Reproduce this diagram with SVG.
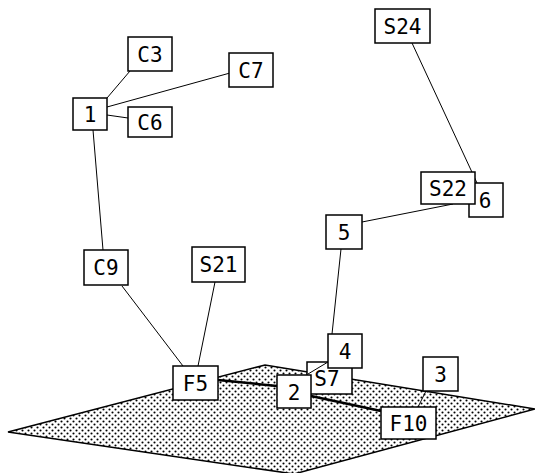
<svg xmlns="http://www.w3.org/2000/svg" width="535" height="473" viewBox="0 0 535 473">
  <style>
    .box { fill: #fff; stroke: #000; stroke-width: 1.5; }
    .lbl { font-family: "DejaVu Sans Mono", "Liberation Mono", monospace; font-size: 21px; fill: #000; text-anchor: middle; }
    .ln { stroke: #000; stroke-width: 1; fill: none; }
    .thick { stroke: #000; stroke-width: 2.5; fill: none; }
  </style>
  <defs>
    <pattern id="dots" width="6" height="6" patternUnits="userSpaceOnUse">
      <rect width="6" height="6" fill="#fff"/>
      <circle cx="1.5" cy="1.5" r="1.05" fill="#000"/>
      <circle cx="4.5" cy="4.5" r="1.05" fill="#000"/>
    </pattern>
  </defs>
  <rect width="535" height="473" fill="#fff"/>
  <g id="plane">
    <polygon points="8,432 265,365 535,409 294,474" fill="url(#dots)" stroke="#000" stroke-width="1.5"/>
  </g>
  <g id="node-6"><rect class="box" x="469" y="183" width="34" height="34"/><text class="lbl" x="485" y="208">6</text></g>
  <g id="node-S7"><rect class="box" x="307" y="362" width="45" height="32"/><text class="lbl" x="327" y="386">S7</text></g>
  <g id="connectors">
    <line class="ln" x1="107" y1="98" x2="130" y2="71"/>
    <line class="ln" x1="107" y1="107" x2="230" y2="73"/>
    <line class="ln" x1="107" y1="115" x2="128" y2="118" stroke-width="1.6"/>
    <line class="ln" x1="93" y1="130" x2="103" y2="250"/>
    <line class="ln" x1="122" y1="286" x2="183" y2="366"/>
    <line class="ln" x1="215" y1="282" x2="198" y2="366"/>
    <line class="ln" x1="412" y1="43" x2="477" y2="183"/>
    <line class="ln" x1="362" y1="222" x2="453" y2="204"/>
    <line class="ln" x1="341" y1="249" x2="332" y2="334"/>
    <line class="ln" x1="328" y1="362" x2="308" y2="374" stroke-width="1.5"/>
    <line class="thick" x1="218" y1="380" x2="277" y2="386"/>
    <line class="thick" x1="311" y1="396" x2="381" y2="411" stroke-width="2"/>
    <line class="ln" x1="426" y1="391" x2="418" y2="407" stroke-width="1.5"/>
  </g>
  <g id="node-C3"><rect class="box" x="128" y="37" width="44" height="34"/><text class="lbl" x="150" y="62">C3</text></g>
  <g id="node-C7"><rect class="box" x="229" y="53" width="44" height="34"/><text class="lbl" x="251" y="78">C7</text></g>
  <g id="node-1"><rect class="box" x="73" y="98" width="34" height="32"/><text class="lbl" x="90" y="122">1</text></g>
  <g id="node-C6"><rect class="box" x="128" y="107" width="44" height="30"/><text class="lbl" x="150" y="130">C6</text></g>
  <g id="node-S24"><rect class="box" x="375" y="9" width="55" height="34"/><text class="lbl" x="402.5" y="34">S24</text></g>
  <g id="node-S22"><rect class="box" x="421" y="172" width="54" height="32"/><text class="lbl" x="448" y="196">S22</text></g>
  <g id="node-5"><rect class="box" x="326" y="215" width="36" height="34"/><text class="lbl" x="344" y="240">5</text></g>
  <g id="node-C9"><rect class="box" x="84" y="250" width="44" height="35"/><text class="lbl" x="106" y="275">C9</text></g>
  <g id="node-S21"><rect class="box" x="192" y="247" width="53" height="35"/><text class="lbl" x="218.5" y="272">S21</text></g>
  <g id="node-F5"><rect class="box" x="173" y="366" width="45" height="34"/><text class="lbl" x="195.5" y="391">F5</text></g>
  <g id="node-4"><rect class="box" x="328" y="334" width="34" height="34"/><text class="lbl" x="345" y="359">4</text></g>
  <g id="node-2"><rect class="box" x="277" y="375" width="34" height="33"/><text class="lbl" x="294" y="400">2</text></g>
  <g id="node-3"><rect class="box" x="423" y="357" width="35" height="34"/><text class="lbl" x="440.5" y="382">3</text></g>
  <g id="node-F10"><rect class="box" x="381" y="407" width="55" height="32"/><text class="lbl" x="408.5" y="431">F10</text></g>
</svg>
